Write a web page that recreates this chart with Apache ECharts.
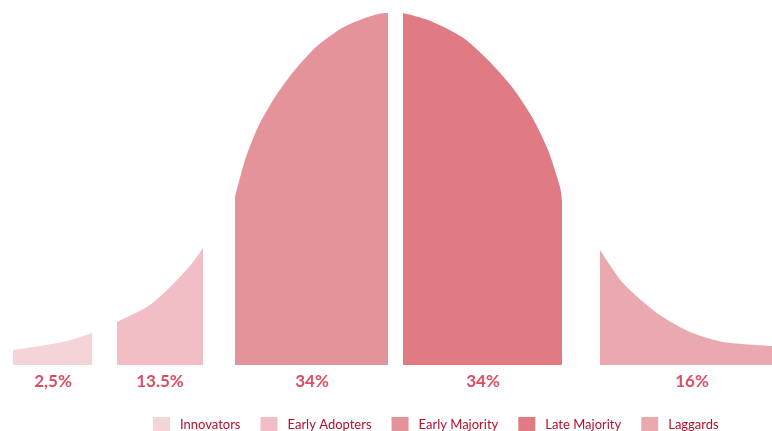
<!DOCTYPE html>
<html>
<head>
<meta charset="utf-8">
<script src="https://cdn.jsdelivr.net/npm/echarts@6/dist/echarts.min.js"></script>
<style>
  html, body { margin: 0; padding: 0; background: #fff; }
  #main { width: 772px; height: 431px; }
</style>
</head>
<body>
<div id="main"></div>
<script>
// segment names and percentages
var names = ['Innovators', 'Early Adopters', 'Early Majority', 'Late Majority', 'Laggards'];
var percents = ['2,5%', '13.5%', '34%', '34%', '16%'];
var labelX = [53, 160, 312, 483, 692];
var colors = ['#f5d4d8', '#f0bec4', '#e5939a', '#e07a83', '#eaa9ae'];

// outline of each segment (x, height above the baseline)
var innovatorsX = [13, 40, 67, 92];
var innovatorsY = [15, 19, 24, 32];
var earlyAdoptersX = [117, 150, 177, 193, 203];
var earlyAdoptersY = [43, 60, 85, 103, 117];
var earlyMajorityX = [235, 245, 258, 275, 294, 316, 342, 365, 385, 388];
var earlyMajorityY = [168, 205, 238, 268, 294, 318, 337, 347, 352, 352];
var lateMajorityX = [403, 428, 462, 488, 512, 532, 548, 560, 562];
var lateMajorityY = [352, 345, 328, 305, 278, 248, 215, 178, 165];
var laggardsX = [600, 623, 657, 690, 723, 772];
var laggardsY = [115, 82, 52, 33, 23, 19];

function zip(xs, ys) {
    return xs.map(function (x, i) { return [x, ys[i]]; });
}

var segments = [
    zip(innovatorsX, innovatorsY),
    zip(earlyAdoptersX, earlyAdoptersY),
    zip(earlyMajorityX, earlyMajorityY),
    zip(lateMajorityX, lateMajorityY),
    zip(laggardsX, laggardsY)
];

var myChart = echarts.init(document.getElementById('main'));

var series = segments.map(function (data, i) {
    return {
        name: names[i],
        type: 'line',
        data: data,
        smooth: 0.25,
        showSymbol: false,
        symbol: 'none',
        lineStyle: { width: 0, color: colors[i] },
        itemStyle: { color: colors[i] },
        areaStyle: { color: colors[i], opacity: 1 }
    };
});

// percentage labels under each segment
series.push({
    type: 'scatter',
    symbolSize: 0,
    clip: false,
    silent: true,
    data: labelX.map(function (x, i) { return [x, 0]; }),
    label: {
        show: true,
        position: 'bottom',
        distance: 8,
        color: '#d01f39',
        fontFamily: 'Lato',
        fontWeight: 'bold',
        fontSize: 17,
        formatter: function (p) { return percents[p.dataIndex]; }
    }
});

var option = {
    animation: false,
    color: colors,
    grid: { left: 0, right: 0, top: 13, bottom: 66 },
    xAxis: { type: 'value', min: 0, max: 772, show: false },
    yAxis: { type: 'value', min: 0, max: 352, show: false },
    legend: {
        data: names,
        left: 148,
        top: 412,
        icon: 'rect',
        itemWidth: 17,
        itemHeight: 16,
        itemGap: 20,
        selectedMode: false,
        textStyle: {
            color: '#b3102c',
            fontFamily: 'Lato',
            fontSize: 13,
            padding: [0, 0, 2, 5]
        }
    },
    series: series
};

myChart.setOption(option);
</script>
</body>
</html>
